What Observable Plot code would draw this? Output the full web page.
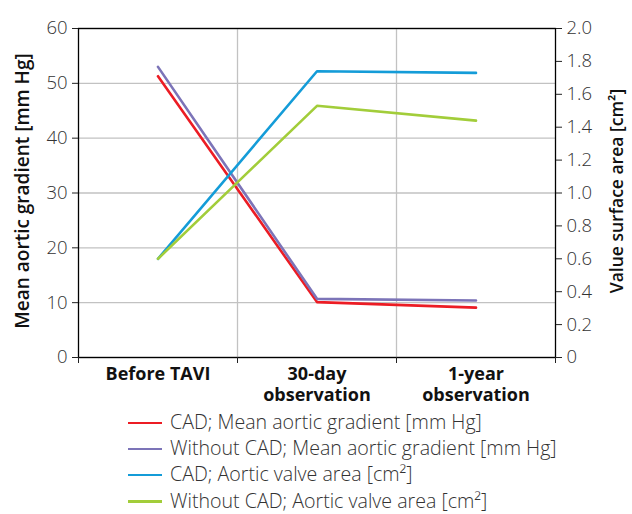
<!DOCTYPE html>
<html><head><meta charset="utf-8">
<script src="https://cdn.jsdelivr.net/npm/d3@7"></script>
<script src="https://cdn.jsdelivr.net/npm/@observablehq/plot@0.6"></script>
<style>
body{margin:0;background:#fff;font-family:"Open Sans",sans-serif;}
#chart{width:632px;}
#legend{padding-top:1px;}
.row{position:relative;height:26.2px;line-height:26.2px;font-size:19.6px;color:#333;font-weight:300;}
.sw{position:absolute;left:128px;top:12.5px;width:34px;height:2.5px;}
.lb{position:absolute;left:170px;top:0;white-space:nowrap;}
</style></head><body><div id="chart"></div><div id="legend"></div>
<script>
const categories = ["Before TAVI", "30-day\nobservation", "1-year\nobservation"];
const seriesNames = [
  "CAD; Mean aortic gradient [mm Hg]",
  "Without CAD; Mean aortic gradient [mm Hg]",
  "CAD; Aortic valve area [cm²]",
  "Without CAD; Aortic valve area [cm²]"
];
const seriesColors = ["#ec1c24", "#7c74b8", "#149cd8", "#a2cd3a"];
const cadGradient = [51.3, 10.1, 9.1];
const noCadGradient = [53.0, 10.7, 10.4];
const cadArea = [0.60, 1.74, 1.73];
const noCadArea = [0.60, 1.53, 1.44];
const gradientTicks = [0, 10, 20, 30, 40, 50, 60];
const areaTicks = [0, 0.2, 0.4, 0.6, 0.8, 1.0, 1.2, 1.4, 1.6, 1.8, 2.0];
const areaTickLabels = ["0", "0.2", "0.4", "0.6", "0.8", "1.0", "1.2", "1.4", "1.6", "1.8", "2.0"];
const leftTitle = "Mean aortic gradient [mm Hg]";
const rightTitle = "Value surface area [cm²]";

const k = 60 / 2.0; // right axis (cm²) mapped onto left scale (mm Hg)
const rows = [];
[cadGradient, noCadGradient].forEach((arr, s) => arr.forEach((v, i) => rows.push({series: seriesNames[s], x: i, y: v})));
[cadArea, noCadArea].forEach((arr, s) => arr.forEach((v, i) => rows.push({series: seriesNames[s + 2], x: i, y: v * k})));
const areaLabel = new Map(areaTicks.map((v, i) => [Math.round(v * k * 1000), areaTickLabels[i]]));

const font = "'Open Sans', sans-serif";
const chart = Plot.plot({
  width: 632, height: 408,
  marginTop: 28, marginBottom: 51, marginLeft: 78, marginRight: 77,
  style: {fontFamily: font, fontSize: "18px", color: "#222", background: "white", overflow: "visible"},
  x: {type: "linear", domain: [-0.5, 2.5], axis: null},
  y: {domain: [0, 60], axis: null},
  color: {domain: seriesNames, range: seriesColors},
  marks: [
    Plot.gridY(gradientTicks, {stroke: "#c2c2c2", strokeOpacity: 1, strokeWidth: 1.3}),
    Plot.gridX([0.5, 1.5], {stroke: "#c2c2c2", strokeOpacity: 1, strokeWidth: 1.3}),
    Plot.frame({stroke: "#000", strokeWidth: 1.3}),
    Plot.axisY(gradientTicks, {anchor: "left", tickSize: 6, tickPadding: 5, label: null, fill: "#333", fontWeight: 300, fontSize: 18.5}),
    Plot.axisY(areaTicks.map(v => v * k), {anchor: "right", tickSize: 6, tickPadding: 5, label: null, fill: "#333", fontWeight: 300, fontSize: 18.5,
      tickFormat: d => areaLabel.get(Math.round(d * 1000))}),
    Plot.axisX([-0.5, 0.5, 1.5, 2.5], {tickSize: 6, tickFormat: () => "", label: null}),
    Plot.text(categories, {x: (d, i) => i, y: 0, dy: 8, lineAnchor: "top", fontWeight: "bold", fontSize: 18, fill: "#111", lineHeight: 1.15}),
    Plot.text([leftTitle], {frameAnchor: "left", textAnchor: "middle", dx: -56, dy: -2, rotate: -90, fontWeight: 600, fontSize: 19, fill: "#111"}),
    Plot.text([rightTitle], {frameAnchor: "right", textAnchor: "middle", dx: 62, dy: -2, rotate: -90, fontWeight: 600, fontSize: 17.5, fill: "#111"}),
    Plot.line(rows, {x: "x", y: "y", z: "series", stroke: "series", strokeWidth: 2.6})
  ]
});
document.getElementById("chart").appendChild(chart);

const legend = document.getElementById("legend");
seriesNames.forEach((name, i) => {
  const row = document.createElement("div");
  row.className = "row";
  const sw = document.createElement("span");
  sw.className = "sw"; sw.style.background = seriesColors[i];
  const lb = document.createElement("span");
  lb.className = "lb"; lb.textContent = name;
  row.appendChild(sw); row.appendChild(lb);
  legend.appendChild(row);
});
</script></body></html>
